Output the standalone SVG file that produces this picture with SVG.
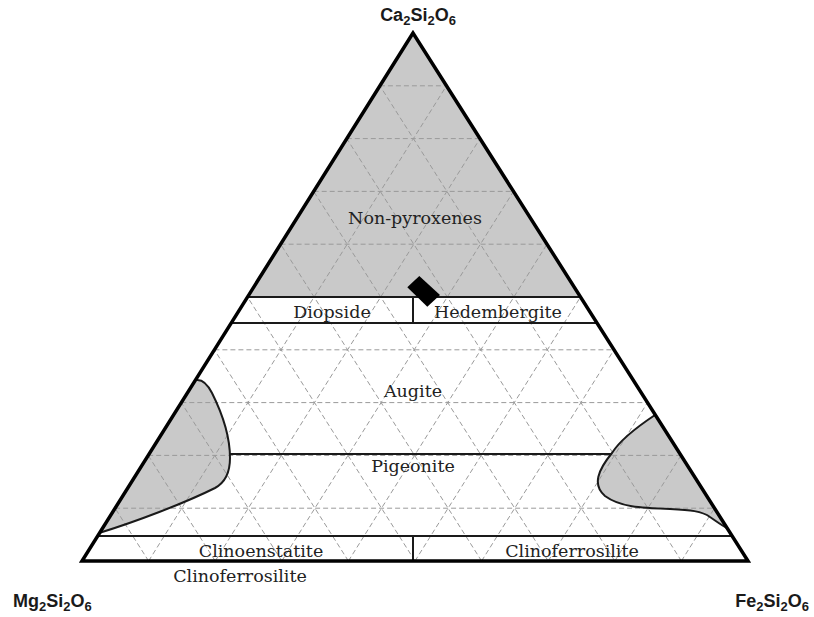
<svg xmlns="http://www.w3.org/2000/svg" width="814" height="617" viewBox="0 0 814 617">
<style>
.fill{fill:#c9c9c9;stroke:none}
.grid line{stroke:#9a9a9a;stroke-width:1;stroke-dasharray:5 3;fill:none}
.solid{stroke:#1a1a1a;stroke-width:2;fill:none}
.outline{stroke:#000;stroke-width:3.5;fill:none;stroke-linejoin:miter}
.lbl{font-family:"DejaVu Serif",serif;font-size:17.5px;fill:#222;text-anchor:middle}
.formula{font-family:"Liberation Sans",Arial,sans-serif;font-weight:bold;font-size:18px;fill:#1a1a1a}
.sub{font-size:13px}
</style>
<rect width="814" height="617" fill="#fff"/>
<g id="non-pyroxenes">
<polygon class="fill" points="413,33 247.5,297 580.5,297"/>
</g>
<g id="blob-left">
<path class="fill" d="M196,380 C203,379 208,385 212,393 C222,413 230,435 230,458 C230,472 226,482 215,488 C185,503 135,522 99,533 Z"/>
</g>
<g id="blob-right">
<path class="fill" d="M655,415 C640,425 620,440 612,453 C598,470 592,485 605,496 C620,507 640,508 670,509 C690,510 702,511 710,517 C716,521 721,525 727,528 Z"/>
</g>
<g class="grid" id="grid">
<line x1="379.9" y1="85.8" x2="446.5" y2="85.8"/>
<line x1="346.8" y1="138.6" x2="480" y2="138.6"/>
<line x1="313.7" y1="191.4" x2="513.5" y2="191.4"/>
<line x1="280.6" y1="244.2" x2="547" y2="244.2"/>
<line x1="247.5" y1="297" x2="580.5" y2="297"/>
<line x1="214.4" y1="349.8" x2="614" y2="349.8"/>
<line x1="181.3" y1="402.6" x2="647.5" y2="402.6"/>
<line x1="148.2" y1="455.4" x2="681" y2="455.4"/>
<line x1="115.1" y1="508.2" x2="714.5" y2="508.2"/>
<line x1="148.6" y1="561" x2="446.5" y2="85.8"/>
<line x1="215.2" y1="561" x2="480" y2="138.6"/>
<line x1="281.8" y1="561" x2="513.5" y2="191.4"/>
<line x1="348.4" y1="561" x2="547" y2="244.2"/>
<line x1="415" y1="561" x2="580.5" y2="297"/>
<line x1="481.6" y1="561" x2="614" y2="349.8"/>
<line x1="548.2" y1="561" x2="647.5" y2="402.6"/>
<line x1="614.8" y1="561" x2="681" y2="455.4"/>
<line x1="681.4" y1="561" x2="714.5" y2="508.2"/>
<line x1="681.4" y1="561" x2="379.9" y2="85.8"/>
<line x1="614.8" y1="561" x2="346.8" y2="138.6"/>
<line x1="548.2" y1="561" x2="313.7" y2="191.4"/>
<line x1="481.6" y1="561" x2="280.6" y2="244.2"/>
<line x1="415" y1="561" x2="247.5" y2="297"/>
<line x1="348.4" y1="561" x2="214.4" y2="349.8"/>
<line x1="281.8" y1="561" x2="181.3" y2="402.6"/>
<line x1="215.2" y1="561" x2="148.2" y2="455.4"/>
<line x1="148.6" y1="561" x2="115.1" y2="508.2"/>
</g>
<g id="connectors">
<line class="solid" x1="247.5" y1="297" x2="580.5" y2="297"/>
<line class="solid" x1="231.2" y1="323" x2="597" y2="323"/>
<line class="solid" x1="413" y1="297" x2="413" y2="323"/>
<line class="solid" x1="230" y1="454" x2="612" y2="454"/>
<line class="solid" x1="97.7" y1="536" x2="732.2" y2="536"/>
<line class="solid" x1="413" y1="536" x2="413" y2="561"/>
<path class="solid" d="M196,380 C203,379 208,385 212,393 C222,413 230,435 230,458 C230,472 226,482 215,488 C185,503 135,522 99,533"/>
<path class="solid" d="M655,415 C640,425 620,440 612,453 C598,470 592,485 605,496 C620,507 640,508 670,509 C690,510 702,511 710,517 C716,521 721,525 727,528"/>
</g>
<g id="triangle">
<polygon class="outline" points="413,33 82,561 748,561"/>
</g>
<g id="diamond">
<polygon points="419.3,276 440,295 427.3,306.7 407.3,287.3" fill="#000"/>
</g>
<g id="labels">
<text class="lbl" x="415" y="224">Non-pyroxenes</text>
<text class="lbl" x="332" y="318">Diopside</text>
<text class="lbl" x="498" y="318">Hedembergite</text>
<text class="lbl" x="413" y="397">Augite</text>
<text class="lbl" x="413" y="472">Pigeonite</text>
<text class="lbl" x="261" y="557">Clinoenstatite</text>
<text class="lbl" x="572" y="557">Clinoferrosilite</text>
<text class="lbl" x="240" y="582">Clinoferrosilite</text>
</g>
<g id="corner-labels">
<text class="formula" x="418" y="21" text-anchor="middle">Ca<tspan class="sub" dy="4">2</tspan><tspan dy="-4">Si</tspan><tspan class="sub" dy="4">2</tspan><tspan dy="-4">O</tspan><tspan class="sub" dy="4">6</tspan></text>
<text class="formula" x="13" y="607">Mg<tspan class="sub" dy="4">2</tspan><tspan dy="-4">Si</tspan><tspan class="sub" dy="4">2</tspan><tspan dy="-4">O</tspan><tspan class="sub" dy="4">6</tspan></text>
<text class="formula" x="809" y="607" text-anchor="end">Fe<tspan class="sub" dy="4">2</tspan><tspan dy="-4">Si</tspan><tspan class="sub" dy="4">2</tspan><tspan dy="-4">O</tspan><tspan class="sub" dy="4">6</tspan></text>
</g>
</svg>
